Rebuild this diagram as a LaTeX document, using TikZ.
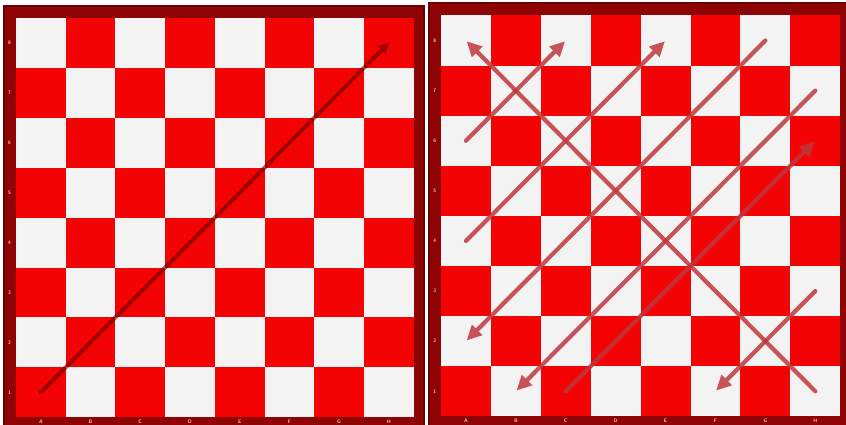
\documentclass[tikz,border=0pt]{standalone}
\usetikzlibrary{arrows.meta}
\definecolor{sqred}{RGB}{243,3,3}
\definecolor{sqwhite}{RGB}{243,243,243}
\definecolor{framefill}{RGB}{142,4,4}
\definecolor{frameedge}{RGB}{105,0,0}
\definecolor{lblcol}{RGB}{238,196,196}
\definecolor{arrowA}{RGB}{110,0,0}
\definecolor{arrowB}{RGB}{190,55,60}
\tikzset{
  boardframe/.style={fill=framefill, draw=frameedge, line width=1.6pt},
  lbl/.style={text=lblcol, font=\fontsize{5}{5}\selectfont\sffamily\bfseries, inner sep=0pt},
  larrow/.style={draw=arrowA, line width=4pt, line cap=round, -{Triangle[length=10pt,width=11pt]}},
  rarrow/.style={draw=arrowB, line width=4.2pt, line cap=round, -{Triangle[length=15pt,width=14pt]}, shorten >=1pt},
}
\begin{document}
\begin{tikzpicture}[x=1pt,y=-1pt]
\useasboundingbox (0,0) rectangle (846,425);
\fill[white] (0,0) rectangle (846,425);
% ---------- left board ----------
\draw[boardframe] (3.8,5.8) rectangle (424.2,426);
\foreach \i in {0,...,7}{\foreach \j in {0,...,7}{
  \pgfmathtruncatemacro\p{mod(\i+\j,2)}
  \ifnum\p=0 \def\sqc{sqwhite}\else\def\sqc{sqred}\fi
  \fill[\sqc] (16+\i*49.7,18+\j*49.9) rectangle ++(49.7,49.9);
}}
\foreach \r [count=\k from 0] in {8,7,6,5,4,3,2,1}{
  \node[lbl] (L-row\r) at (9.6,{18+49.9*(\k+0.5)}) {\r};
}
\foreach \f [count=\i from 0] in {A,B,C,D,E,F,G,H}{
  \node[lbl] (L-col\f) at ({16+49.7*(\i+0.5)},421.5) {\f};
}
\foreach \f [count=\i from 0] in {a,b,c,d,e,f,g,h}{\foreach \r in {1,...,8}{
  \coordinate (L-\f\r) at ({16+49.7*(\i+0.5)},{18+49.9*(8-\r+0.5)});
}}
\begin{scope}[transparency group, opacity=0.6]
  \draw[larrow] (L-a1) -- (L-h8);
\end{scope}
% ---------- right board ----------
\draw[boardframe] (428.8,2.8) rectangle (847,426);
\foreach \i in {0,...,7}{\foreach \j in {0,...,7}{
  \pgfmathtruncatemacro\p{mod(\i+\j,2)}
  \ifnum\p=0 \def\sqc{sqwhite}\else\def\sqc{sqred}\fi
  \fill[\sqc] (441+\i*49.9,15.5+\j*50.1) rectangle ++(49.9,50.1);
}}
\foreach \r [count=\k from 0] in {8,7,6,5,4,3,2,1}{
  \node[lbl] (R-row\r) at (434.8,{15.5+50.1*(\k+0.5)}) {\r};
}
\foreach \f [count=\i from 0] in {A,B,C,D,E,F,G,H}{
  \node[lbl] (R-col\f) at ({441+49.9*(\i+0.5)},421) {\f};
}
\foreach \f [count=\i from 0] in {a,b,c,d,e,f,g,h}{\foreach \r in {1,...,8}{
  \coordinate (R-\f\r) at ({441+49.9*(\i+0.5)},{15.5+50.1*(8-\r+0.5)});
}}
\foreach \s/\e in {a6/c8, h1/a8, a4/e8, g8/a2, h7/b1, c1/h6, h3/f1}{
  \begin{scope}[transparency group, opacity=0.85]
    \draw[rarrow] (R-\s) -- (R-\e);
  \end{scope}
}
\end{tikzpicture}
\end{document}
